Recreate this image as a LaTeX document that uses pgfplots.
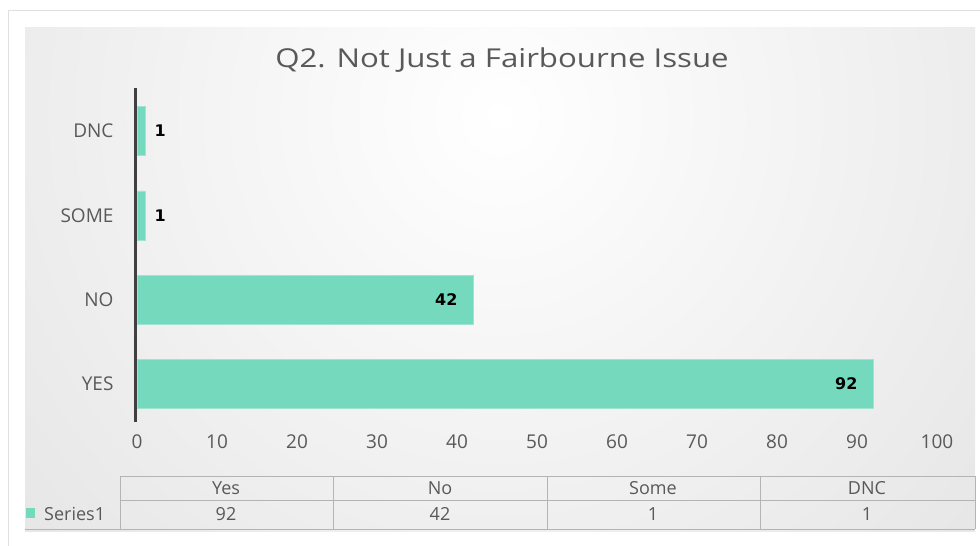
\documentclass[border=0pt]{standalone}
\usepackage{pgfplots}
\pgfplotsset{compat=1.18}
\usepackage{fontspec}
\setmainfont{Open Sans}
\newfontfamily\lblfont{DejaVu Sans}
\definecolor{barteal}{HTML}{75D9BD}
\definecolor{axisdark}{HTML}{404040}
\definecolor{txtgray}{HTML}{595959}
\definecolor{gridgray}{HTML}{B4B4B4}

\begin{document}
\begin{tikzpicture}[x=1pt,y=1pt]
% page and chart area (1pt = 1px, y measured from the bottom)
\path[use as bounding box, fill=white] (0,0) rectangle (980,546);
\draw[black!12] (8,0) -- (8,536) -- (980,536);
\begin{scope}
  \clip (25,14) rectangle (975,518);
  \shade[inner color=white, outer color=black!19] (500,430) circle (1250);
\end{scope}

\node[anchor=base, text=txtgray, font=\fontsize{26}{26}\selectfont] at (502,478)
  {\scalebox{1.2}[1]{Q2. Not Just a Fairbourne Issue}};

\begin{axis}[
  at={(137pt,124pt)}, anchor=south west,
  scale only axis,
  width=800pt, height=334pt,
  xbar, bar width=49pt, bar shift=0pt,
  xmin=0, xmax=100,
  ymin=-0.45, ymax=3.51,
  axis on top,
  axis lines=left,
  x axis line style={draw=none},
  y axis line style={draw=axisdark, line width=3pt, -, xshift=-1.5pt},
  major tick length=0pt,
  xtick={0,10,...,100},
  ytick={0,1,2,3},
  yticklabels={YES,NO,SOME,DNC},
  ticklabel style={font=\fontsize{19}{19}\selectfont, text=txtgray},
  /pgf/number format/assume math mode=true,
  xticklabel style={yshift=-9pt},
  yticklabel style={xshift=-20pt},
  nodes near coords,
  every node near coord/.append style={font=\lblfont\bfseries\fontsize{16}{16}\selectfont, text=black},
]
\addplot[fill=barteal, draw=barteal!70!white,
  every node near coord/.append style={anchor=east, xshift=-12pt}]
  coordinates {(92,0) (42,1)};
\addplot[fill=barteal, draw=barteal!70!white,
  every node near coord/.append style={anchor=west, xshift=6pt}]
  coordinates {(1,2) (1,3)};
\end{axis}

% data table below the axis
\draw[gridgray] (120,70) -- (975,70);
\draw[gridgray] (120,46) -- (975,46);
\draw[gridgray] (25,17) -- (975,17);
\foreach \x in {120,333,547,760,975} \draw[gridgray] (\x,70) -- (\x,17);
\fill[barteal] (26,28) rectangle (35,38);
\node[anchor=west, text=txtgray, font=\fontsize{18}{18}\selectfont, inner sep=0pt] at (44,32) {Series1};
\foreach \x/\c/\v in {226/Yes/92, 440/No/42, 653/Some/1, 867/DNC/1} {
  \node[text=txtgray, font=\fontsize{18}{18}\selectfont] at (\x,58) {\c};
  \node[text=txtgray, font=\fontsize{18}{18}\selectfont] at (\x,32) {\v};
}
\end{tikzpicture}
\end{document}
